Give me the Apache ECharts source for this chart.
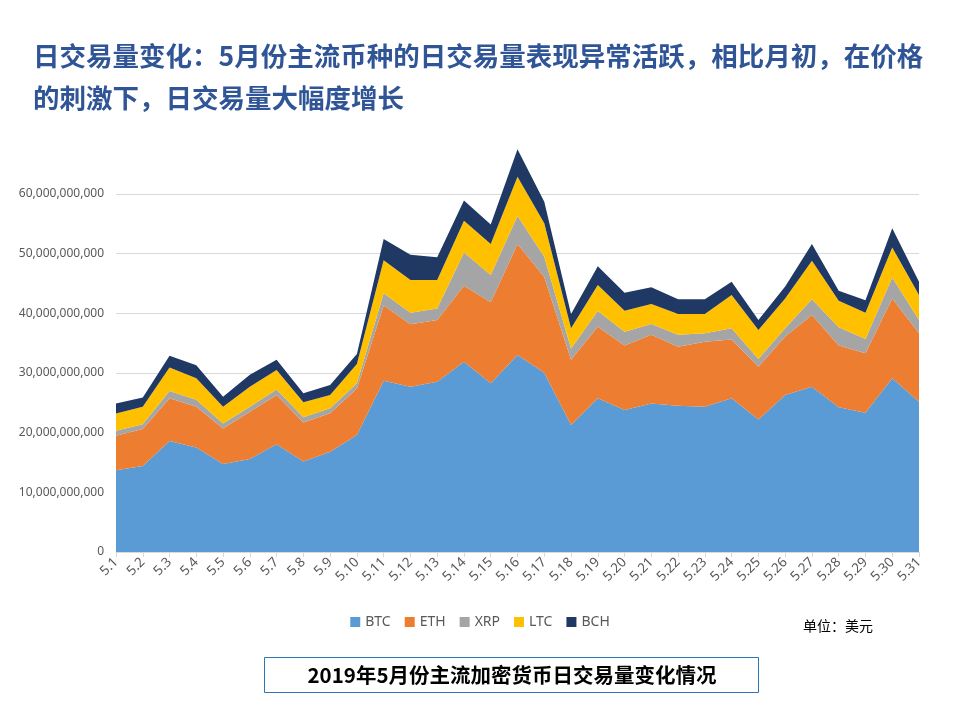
<!DOCTYPE html>
<html>
<head>
<meta charset="utf-8">
<script src="https://cdn.jsdelivr.net/npm/echarts@6/dist/echarts.min.js"></script>
<style>html,body{margin:0;padding:0;background:#fff}#c{width:960px;height:720px}</style>
</head>
<body>
<div id="c"></div>
<script>
// Daily volume, unit: billion USD (1e9)
const categories = ['5.1','5.2','5.3','5.4','5.5','5.6','5.7','5.8','5.9','5.10','5.11','5.12','5.13','5.14','5.15','5.16','5.17','5.18','5.19','5.20','5.21','5.22','5.23','5.24','5.25','5.26','5.27','5.28','5.29','5.30','5.31'];
const btc = [13.7,14.4,18.6,17.5,14.75,15.6,18.05,15.15,16.8,19.6,28.7,27.7,28.55,31.9,28.3,33.0,30.05,21.3,25.75,23.8,24.9,24.5,24.35,25.75,22.2,26.3,27.7,24.25,23.35,29.1,25.2];
const eth = [5.8,6.2,7.15,6.85,5.95,7.9,8.25,6.55,6.45,7.8,12.6,10.45,10.35,12.7,13.55,18.6,16.05,10.9,12.0,10.8,11.5,9.9,10.9,9.85,8.85,9.8,12.0,10.35,9.95,13.4,11.45];
const xrp = [0.8,0.8,1.25,1.15,0.85,0.85,0.95,0.9,0.85,0.9,2.05,1.95,1.9,5.6,4.55,4.7,3.4,1.9,2.65,2.3,1.8,2.0,1.4,1.9,1.3,1.4,2.65,3.05,2.4,3.5,2.25];
const ltc = [2.9,2.95,3.9,3.6,2.8,3.35,3.25,2.5,2.2,3.2,5.55,5.5,4.8,5.3,5.2,6.6,5.6,3.4,4.35,3.55,3.35,3.5,3.25,5.55,4.85,5.0,6.45,4.45,4.4,5.05,4.15];
const bch = [1.7,1.55,2.0,2.2,1.65,2.0,1.7,1.5,1.7,1.7,3.55,4.2,3.8,3.4,3.3,4.6,3.6,2.4,3.15,3.0,2.8,2.45,2.45,2.25,1.7,2.0,2.8,1.7,2.1,3.2,2.25];
const seriesNames = ['BTC','ETH','XRP','LTC','BCH'];
const seriesData = [btc, eth, xrp, ltc, bch];
const colors = ['#5B9BD5','#ED7D31','#A5A5A5','#FFC000','#203864'];

const chart = echarts.init(document.getElementById('c'));
const fmt = v => (Math.round(v * 1e9)).toLocaleString('en-US');
chart.setOption({
  animation: false,
  color: colors,
  title: [{
    text: '日交易量变化：5月份主流币种的日交易量表现异常活跃，相比月初，在价格\n的刺激下，日交易量大幅度增长',
    left: 33, top: 35, padding: 0,
    textStyle: {fontFamily: 'Noto Sans CJK SC', fontSize: 26.5, fontWeight: 'bold', color: '#2F5597', lineHeight: 42}
  }],
  grid: {left: 116, right: 41, top: 134.3, bottom: 168},
  legend: {
    data: seriesNames, left: 'center', top: 610, icon: 'rect', itemWidth: 10, itemHeight: 10, itemGap: 14,
    textStyle: {fontFamily: 'Noto Sans', fontSize: 14, color: '#595959'}
  },
  xAxis: {
    type: 'category', data: categories, boundaryGap: false,
    axisLine: {lineStyle: {color: '#D9D9D9'}},
    axisTick: {show: true, alignWithLabel: true, length: 5, lineStyle: {color: '#D9D9D9'}},
    axisLabel: {rotate: 45, interval: 0, fontFamily: 'Noto Sans', fontSize: 13.5, color: '#595959', margin: 8}
  },
  yAxis: {
    type: 'value', min: 0, max: 70, interval: 10,
    axisLine: {show: false}, axisTick: {show: false},
    splitLine: {show: true, showMaxLine: false, lineStyle: {color: '#D9D9D9'}},
    axisLabel: {showMaxLabel: false, formatter: fmt, fontFamily: 'Noto Sans', fontSize: 12, color: '#595959', margin: 12}
  },
  series: seriesNames.map((n, i) => ({
    name: n, type: 'line', stack: 'total', data: seriesData[i],
    symbol: 'none', lineStyle: {width: 0}, areaStyle: {color: colors[i], opacity: 1}
  })),
  graphic: [
    {type: 'rect', shape: {x: 264.5, y: 657.5, width: 494, height: 35}, style: {fill: '#fff', stroke: '#2E75B6', lineWidth: 1}},
    {type: 'text', x: 512, y: 675, style: {text: '2019年5月份主流加密货币日交易量变化情况', fontFamily: 'Noto Sans CJK SC', fontSize: 20.5, fontWeight: 'bold', fill: '#000', align: 'center', verticalAlign: 'middle'}},
    {type: 'text', x: 803, y: 626, style: {text: '单位：美元', fontFamily: 'Noto Sans CJK SC', fontSize: 14, fill: '#000', align: 'left', verticalAlign: 'middle'}}
  ]
});
</script>
</body>
</html>
